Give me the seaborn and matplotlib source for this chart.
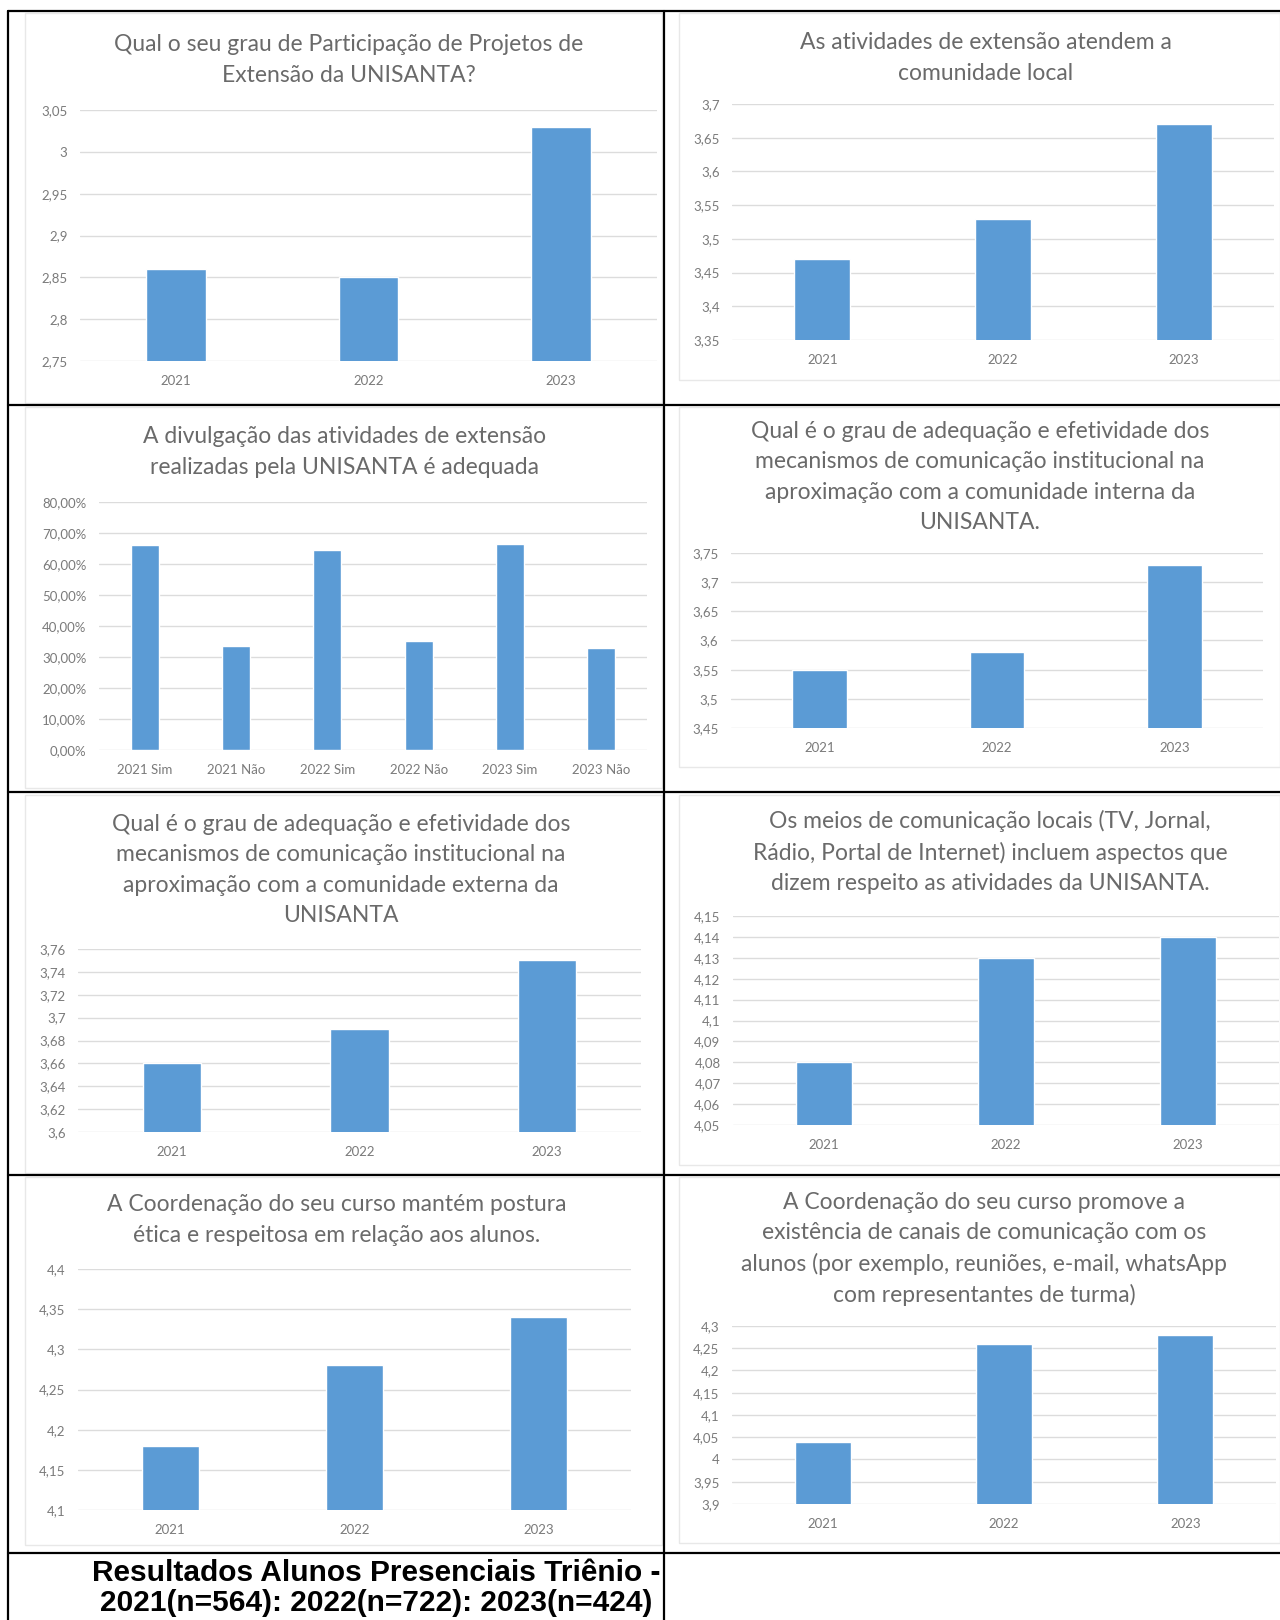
import numpy as np
import pandas as pd
import seaborn as sns
import matplotlib
matplotlib.use("Agg")
import matplotlib.pyplot as plt
from matplotlib.lines import Line2D
from matplotlib.patches import Rectangle

# -----------------------------
# Data
# -----------------------------
years = ["2021", "2022", "2023"]
divulgacao_cats = ["2021 Sim", "2021 Não", "2022 Sim", "2022 Não", "2023 Sim", "2023 Não"]

participacao = [2.86, 2.85, 3.03]
comunidade_local = [3.47, 3.53, 3.67]
divulgacao = [0.660, 0.334, 0.644, 0.353, 0.666, 0.328]
com_interna = [3.55, 3.58, 3.73]
com_externa = [3.66, 3.69, 3.75]
meios_locais = [4.08, 4.13, 4.14]
postura_etica = [4.18, 4.28, 4.34]
canais_comunicacao = [4.04, 4.26, 4.28]

titles = [
    "Qual o seu grau de Participação de Projetos de\nExtensão da UNISANTA?",
    "As atividades de extensão atendem a\ncomunidade local",
    "A divulgação das atividades de extensão\nrealizadas pela UNISANTA é adequada",
    "Qual é o grau de adequação e efetividade dos\nmecanismos de comunicação institucional na\n"
    "aproximação com a comunidade interna da\nUNISANTA.",
    "Qual é o grau de adequação e efetividade dos\nmecanismos de comunicação institucional na\n"
    "aproximação com a comunidade externa da\nUNISANTA",
    "Os meios de comunicação locais (TV, Jornal,\nRádio, Portal de Internet) incluem aspectos que\n"
    "dizem respeito as atividades da UNISANTA.",
    "A Coordenação do seu curso mantém postura\nética e respeitosa em relação aos alunos.",
    "A Coordenação do seu curso promove a\nexistência de canais de comunicação com os\n"
    "alunos (por exemplo, reuniões, e-mail, whatsApp\ncom representantes de turma)",
]

# y axis: (min, max, step)
y_scales = [
    (2.75, 3.05, 0.05),
    (3.35, 3.70, 0.05),
    (0.0, 0.80, 0.10),
    (3.45, 3.75, 0.05),
    (3.60, 3.76, 0.02),
    (4.05, 4.15, 0.01),
    (4.10, 4.40, 0.05),
    (3.90, 4.30, 0.05),
]

caption = "Resultados Alunos Presenciais Triênio -\n2021(n=564): 2022(n=722): 2023(n=424)"

series = [
    (years, participacao),
    (years, comunidade_local),
    (divulgacao_cats, divulgacao),
    (years, com_interna),
    (years, com_externa),
    (years, meios_locais),
    (years, postura_etica),
    (years, canais_comunicacao),
]

# -----------------------------
# Layout (pixels of a 1280x1620 page)
# -----------------------------
W, H = 1280, 1620
# plot area: x0, x1, ytop, ybottom
plot_boxes = [
    (80, 657, 110, 361),
    (732, 1274, 104, 340),
    (99, 647, 502, 750),
    (731, 1263, 553, 728),
    (78, 641, 949, 1132),
    (733, 1279, 916, 1125),
    (78, 631, 1269, 1510),
    (732, 1276, 1326, 1504),
]
# title block: center x, center y
title_pos = [
    (349, 60), (986, 58), (345, 452), (980, 477),
    (341, 870), (990, 852), (337, 1220), (984, 1249),
]
# chart image frames: x0, x1, y0, y1
frames = [
    (25, 662, 13, 403), (679, 1280, 13, 380),
    (25, 662, 407, 788), (679, 1280, 407, 767),
    (25, 662, 795, 1173), (679, 1280, 795, 1165),
    (25, 662, 1177, 1545), (679, 1280, 1177, 1543),
]

BLUE = "#5B9BD5"
GRID = "#DCDCDC"
TEXT = "#6A6A6A"
TICK = "#7A7A7A"


def fmt_tick(v, pct):
    if pct:
        return f"{v * 100:.2f}%".replace(".", ",")
    s = f"{v:.2f}".rstrip("0").rstrip(".")
    return s.replace(".", ",")


def fig_rect(x0, x1, y0, y1):
    return [x0 / W, 1 - y1 / H, (x1 - x0) / W, (y1 - y0) / H]


# -----------------------------
# Plot
# -----------------------------
sns.set_theme(style="white")
plt.rcParams["font.family"] = ["Lato", "DejaVu Sans"]

fig = plt.figure(figsize=(W / 100, H / 100), dpi=100)
fig.patch.set_facecolor("white")

# light frames of the pasted chart images
for (x0, x1, y0, y1) in frames:
    fig.add_artist(Rectangle((x0 / W, 1 - y1 / H), (x1 - x0) / W, (y1 - y0) / H,
                             transform=fig.transFigure, fill=False,
                             edgecolor="#E8E8E8", linewidth=1))

for i, ((cats, vals), (lo, hi, step)) in enumerate(zip(series, y_scales)):
    ax = fig.add_axes(fig_rect(*plot_boxes[i]))
    df = pd.DataFrame({"cat": cats, "val": vals})
    sns.barplot(data=df, x="cat", y="val", color=BLUE, saturation=1,
                width=0.31, ax=ax)
    ax.set_xlim(-0.5, len(cats) - 0.5)
    ax.set_ylim(lo, hi)
    n = int(round((hi - lo) / step))
    ticks = np.linspace(lo, hi, n + 1)
    ax.set_yticks(ticks)
    ax.set_yticklabels([fmt_tick(t, i == 2) for t in ticks])
    ax.grid(axis="y", color=GRID, linewidth=1)
    ax.set_axisbelow(True)
    for sp in ax.spines.values():
        sp.set_visible(False)
    ax.tick_params(axis="both", length=0, labelsize=9.5, labelcolor=TICK)
    ax.tick_params(axis="x", pad=10)
    ax.tick_params(axis="y", pad=9)
    ax.set_xlabel("")
    ax.set_ylabel("")
    ax.patch.set_alpha(0)

    tx, ty = title_pos[i]
    fig.text(tx / W, 1 - ty / H, titles[i], ha="center", va="center",
             multialignment="center", fontsize=16.5, color=TEXT, linespacing=1.54)

# table borders
lw = 1.6
def hline(y, x0=8, x1=1280):
    fig.add_artist(Line2D([x0 / W, x1 / W], [1 - y / H, 1 - y / H],
                          transform=fig.transFigure, color="black", linewidth=lw))

def vline(x, y0=11, y1=1620):
    fig.add_artist(Line2D([x / W, x / W], [1 - y0 / H, 1 - y1 / H],
                          transform=fig.transFigure, color="black", linewidth=lw))

for y in [11, 405, 792, 1175, 1553]:
    hline(y)
vline(8)
vline(664)

fig.text(376 / W, 1 - 1588 / H, caption, ha="center", va="center",
         multialignment="center", fontsize=21.5, fontweight="bold",
         family=["Liberation Sans", "DejaVu Sans"], color="black", linespacing=1.12)

fig.savefig("out.png", dpi=100)
